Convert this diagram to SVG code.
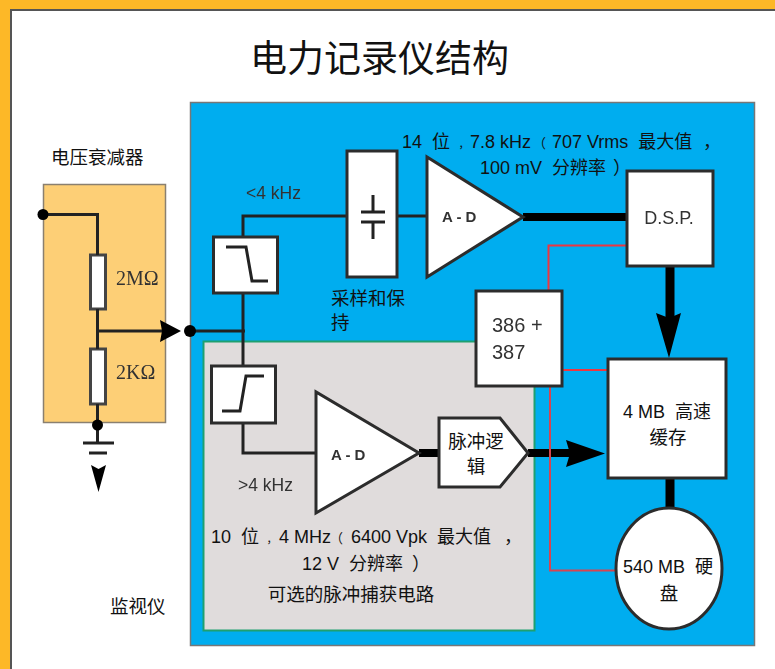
<svg xmlns="http://www.w3.org/2000/svg" width="775" height="669" viewBox="0 0 775 669">
<style>
text{font-family:"Liberation Sans","Noto Sans CJK SC",sans-serif;fill:#111;font-size:18px;white-space:pre}
.c{font-size:18.5px}
.m{text-anchor:middle}
.g{fill:#333;filter:url(#b)}
.b{font-weight:bold;font-size:15px}
.s{font-family:"Liberation Serif","Noto Sans CJK SC",serif;font-size:20px}
.box{fill:#fff;stroke:#2c2c2c;stroke-width:3}
.res{fill:#fff;stroke:#444;stroke-width:3}
.w{fill:none;stroke:#222;stroke-width:3}
.t{fill:none;stroke:#000}
.r{fill:none;stroke:#ee3640;stroke-width:2}
.dot{fill:#000}
.pc{font-size:11px}
.pp{font-size:13px}
</style>
<defs><filter id="b" x="-10%" y="-10%" width="120%" height="120%"><feGaussianBlur stdDeviation="0.45"/></filter></defs>
<rect width="775" height="669" fill="#fff"/>
<g id="frame"><path d="M11 669V10H775" fill="none" stroke="#555" stroke-width="2"/><path d="M0 0H775V9H10V669H0Z" fill="#fdb827"/></g>
<text x="250" y="72" style="font-size:37px">电力记录仪结构</text>
<g id="monitor-panel"><rect x="190.500" y="102.500" width="564" height="543" fill="#00adef" stroke="#777" stroke-width="1.500"/><text x="110" y="613" class="c">监视仪</text></g>
<g id="capture-panel"><rect x="203.500" y="341.500" width="331" height="289" fill="#e0dcdc" stroke="#1fa070" stroke-width="2"/><text x="351" y="601" class="c m">可选的脉冲捕获电路</text></g>
<g id="attenuator"><rect x="43.500" y="184.500" width="122" height="238" fill="#fdcf76" stroke="#8a8070" stroke-width="1.500"/><text x="51" y="164" class="c">电压衰减器</text>
<rect class="res" x="90.500" y="255" width="15" height="54"/><rect class="res" x="90.500" y="349" width="15" height="55"/>
<text x="116" y="285" class="s g">2MΩ</text><text x="116" y="379" class="s g">2KΩ</text></g>
<g id="connectors">
<path class="w" d="M43 214.500H97.500V255M97.500 309V349M97.500 404V443M97.500 331H165"/>
<path class="w" d="M83 443H114M89 453H107"/>
<path class="w" d="M190 331H245M243 366V293M243 237V216H347M397 216H427M243 422V453H316"/>
<path class="t" stroke-width="8" d="M523 217H627"/>
<path class="t" stroke-width="8" d="M419 453H439M528 453H572"/>
<path class="t" stroke-width="9" d="M670 266V320M670 478V512"/>
<path class="r" d="M627 245.500H548.500V291M562 370H608"/>
<path class="r" style="stroke:#d64550" d="M550 386V570.500H616"/>
<path class="dot" d="M160 320L181 331L160 342L162 331Z"/>
<path class="dot" d="M91 465L98.500 469L106 465L98.500 492Z"/>
<path class="dot" d="M656 313L669 318L681 313L669 358Z"/>
<path class="dot" d="M566 440L605 453.500L566 467L570 453.500Z"/>
<circle class="dot" cx="43" cy="214.500" r="5.500"/><circle class="dot" cx="97.500" cy="425" r="5.500"/><circle class="dot" cx="190" cy="331" r="6"/>
</g>
<g id="lowpass"><rect class="box" x="213.500" y="237" width="64" height="56"/><path class="w" d="M226 247H246L252 281H268"/></g>
<g id="highpass"><rect class="box" x="211.500" y="366" width="64" height="57"/><path class="w" d="M222 411H240L246 376H264"/></g>
<g id="sample-hold"><rect class="box" x="347" y="151" width="50" height="126"/><path class="w" d="M373 195V212M373 222V239M361 212H385M361 222H385"/><text x="331" y="305" class="c">采样和保</text><text x="331" y="329" class="c">持</text></g>
<g id="adc1"><path class="box" d="M427 157V277L523 217Z"/><text x="442" y="222" class="g b">A - D</text></g>
<text id="adc1-label" y="148"><tspan x="402">14  位</tspan><tspan x="458.500" class="pc">，</tspan><tspan x="470">7.8 kHz</tspan><tspan x="533" class="pp">（</tspan><tspan x="552">707 Vrms  最大值</tspan><tspan x="703">，</tspan></text>
<text id="adc1-label2" y="174"><tspan x="480">100 mV  分辨率</tspan><tspan x="613">）</tspan></text>
<g id="dsp"><rect class="box" x="627" y="171" width="86" height="95"/><text x="669" y="224" class="g m" style="font-size:18px">D.S.P.</text></g>
<g id="cpu"><rect class="box" x="476" y="291" width="86" height="95"/><text x="492" y="332" class="g" style="font-size:20px">386 +</text><text x="492" y="359" class="g" style="font-size:20px">387</text></g>
<g id="cache"><rect class="box" x="608" y="359" width="118" height="119"/><text x="667" y="418" class="m">4 MB  高速</text><text x="668" y="444" class="c m">缓存</text></g>
<g id="disk"><ellipse class="box" cx="669" cy="568.500" rx="53" ry="60.500"/><text x="668" y="573" class="m">540 MB  硬</text><text x="669" y="600" class="c m">盘</text></g>
<g id="adc2"><path class="box" d="M316 392V513L419 453Z"/><text x="331" y="460" class="g b">A - D</text></g>
<g id="pulse-logic"><path class="box" d="M439 418H500L528 453L500 487H439Z"/><text x="476" y="448" class="c m">脉冲逻</text><text x="476" y="473" class="c m">辑</text></g>
<text id="adc2-label" y="543"><tspan x="211">10  位</tspan><tspan x="266.500" class="pc">，</tspan><tspan x="279">4 MHz</tspan><tspan x="330" class="pp">（</tspan><tspan x="351">6400 Vpk  最大值</tspan><tspan x="504">，</tspan></text>
<text id="adc2-label2" y="570"><tspan x="302">12 V  分辨率</tspan><tspan x="412">）</tspan></text>
<text x="246" y="199" class="g" style="font-size:17.500px">&lt;4 kHz</text>
<text x="238" y="491" class="g" style="font-size:17.500px">&gt;4 kHz</text>
</svg>
